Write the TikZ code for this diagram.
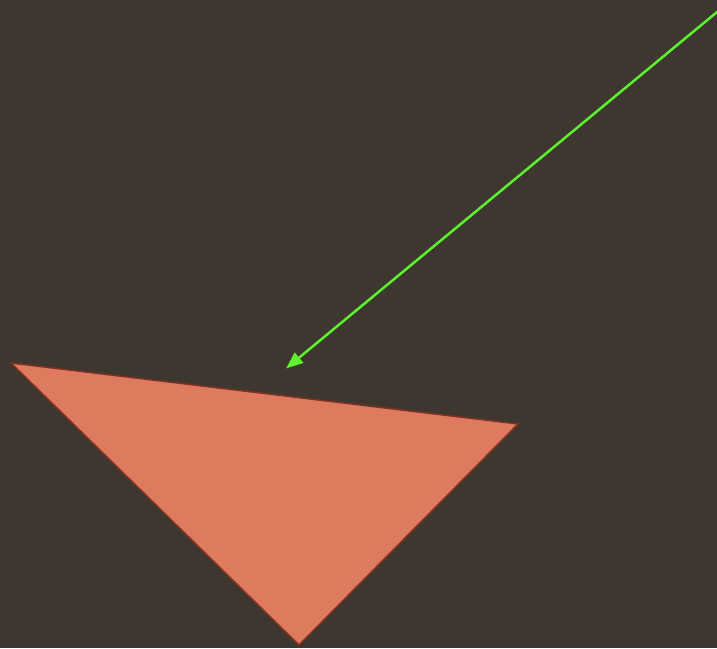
\documentclass[tikz,border=0pt]{standalone}
\usetikzlibrary{arrows.meta}
\definecolor{bg}{HTML}{3D3730}
\definecolor{tri}{HTML}{DE7B5F}
\definecolor{triedge}{HTML}{7E3222}
\definecolor{arr}{HTML}{5CF22E}
\tikzset{
  trishape/.style={fill=tri,draw=triedge,line width=1.5pt,line join=miter},
  pointer/.style={draw=arr,line width=2.5pt,-{Triangle[length=17pt,width=13pt]}}
}
\begin{document}
\begin{tikzpicture}[x=1pt,y=-1pt]
\fill[bg] (0,0) rectangle (717,648);
\useasboundingbox (0,0) rectangle (717,648);
\clip (0,0) rectangle (717,648);
\coordinate (A) at (11,363);
\coordinate (B) at (518,424);
\coordinate (C) at (299,645);
\coordinate (S) at (731,0.5);
\coordinate (T) at (286,368.5);
\path[trishape] (A) -- (B) -- (C) -- cycle;
\draw[pointer] (S) -- (T);
\end{tikzpicture}
\end{document}
